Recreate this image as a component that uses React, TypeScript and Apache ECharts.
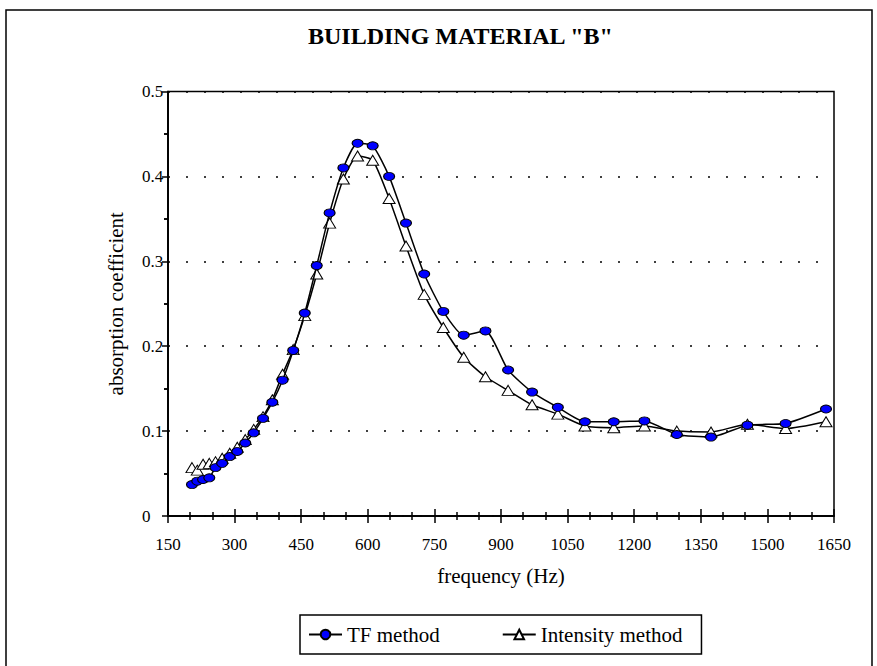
import React, { useEffect, useRef } from "react";
import * as echarts from "echarts";

const frequencies = [
  204, 216, 229, 243, 257, 272, 289, 306, 324, 343, 364, 385, 408, 432, 458, 485, 514, 545, 577,
  611, 648, 686, 727, 770, 816, 865, 916, 970, 1028, 1089, 1154, 1223, 1296, 1373, 1455, 1541, 1632,
];
const tfMethod = [
  0.037, 0.041, 0.043, 0.045, 0.057, 0.062, 0.07, 0.076, 0.086, 0.098, 0.115, 0.134, 0.16, 0.195,
  0.239, 0.295, 0.357, 0.41, 0.439, 0.436, 0.4, 0.345, 0.285, 0.241, 0.213, 0.218, 0.172, 0.146,
  0.128, 0.111, 0.111, 0.112, 0.096, 0.093, 0.107, 0.109, 0.126,
];
const intensityMethod = [
  0.057, 0.054, 0.061, 0.062, 0.064, 0.068, 0.074, 0.081, 0.09, 0.102, 0.117, 0.137, 0.167, 0.196,
  0.236, 0.285, 0.345, 0.397, 0.424, 0.419, 0.374, 0.318, 0.261, 0.222, 0.187, 0.164, 0.148, 0.131,
  0.12, 0.106, 0.104, 0.106, 0.1, 0.099, 0.108, 0.103, 0.111,
];
const seriesNames = ["TF method", "Intensity method"];
const titleText = 'BUILDING MATERIAL "B"';
const xAxisName = "frequency (Hz)";
const yAxisName = "absorption coefficient";

const FONT = "Liberation Serif";

export default function App() {
  const ref = useRef<HTMLDivElement>(null);
  useEffect(() => {
    if (!ref.current) return;
    const chart = echarts.init(ref.current, null, { renderer: "svg" });
    const tf = frequencies.map((f, i) => [f, tfMethod[i]]);
    const it = frequencies.map((f, i) => [f, intensityMethod[i]]);
    const axisBase = {
      type: "value" as const,
      axisLine: { show: true, lineStyle: { color: "#000", width: 1.5 } },
      splitLine: { show: false },
    };
    chart.setOption({
      animation: false,
      backgroundColor: "#fff",
      textStyle: { fontFamily: FONT, color: "#000" },
      title: {
        text: titleText,
        left: 308,
        top: 24,
        padding: 0,
        textStyle: { fontFamily: FONT, fontWeight: "bold", fontSize: 24, color: "#000" },
      },
      grid: {
        left: 168,
        right: 43,
        top: 91.5,
        bottom: 150,
        show: true,
        borderColor: "#000",
        borderWidth: 1.5,
        containLabel: false,
      },
      legend: {
        data: seriesNames,
        left: 300,
        top: 615,
        orient: "horizontal",
        borderColor: "#000",
        borderWidth: 1.5,
        padding: [9, 19, 9, 8],
        itemWidth: 33,
        itemHeight: 12,
        itemGap: 62,
        textStyle: { fontFamily: FONT, fontSize: 21, color: "#000" },
      },
      xAxis: [
        {
          ...axisBase,
          min: 150,
          max: 1650,
          interval: 150,
          position: "bottom",
          name: xAxisName,
          nameLocation: "middle",
          nameGap: 49,
          nameTextStyle: { fontFamily: FONT, fontSize: 21, color: "#000" },
          axisTick: { show: true, length: 7, lineStyle: { color: "#000", width: 1.5 } },
          minorTick: { show: true, splitNumber: 3, length: 4, lineStyle: { color: "#000", width: 1.5 } },
          axisLabel: {
            fontFamily: FONT,
            fontSize: 17,
            color: "#000",
            margin: 20,
            formatter: (v: number) => String(v),
          },
        },
        {
          ...axisBase,
          min: 150,
          max: 1650,
          interval: 150,
          position: "bottom",
          axisTick: { show: true, inside: true, length: 7, lineStyle: { color: "#000", width: 1.5 } },
          minorTick: { show: true, splitNumber: 3, length: 4, lineStyle: { color: "#000", width: 1.5 } },
          axisLabel: { show: false },
        },
      ],
      yAxis: [
        {
          ...axisBase,
          min: 0,
          max: 0.5,
          interval: 0.1,
          position: "left",
          name: yAxisName,
          nameLocation: "middle",
          nameGap: 42,
          nameRotate: 90,
          nameTextStyle: { fontFamily: FONT, fontSize: 21, color: "#000" },
          axisTick: { show: true, length: 6, lineStyle: { color: "#000", width: 1.5 } },
          minorTick: { show: true, splitNumber: 2, length: 4, lineStyle: { color: "#000", width: 1.5 } },
          axisLabel: {
            fontFamily: FONT,
            fontSize: 17,
            color: "#000",
            align: "left",
            margin: 26,
            formatter: (v: number) => (v === 0 ? "0" : v.toFixed(1)),
          },
          splitLine: {
            show: true,
            lineStyle: { color: "#000", width: 1.5, type: [2, 16] },
          },
        },
        {
          ...axisBase,
          min: 0,
          max: 0.5,
          interval: 0.1,
          position: "left",
          axisTick: { show: false },
          minorTick: { show: true, splitNumber: 2, length: 4, lineStyle: { color: "#000", width: 1.5 } },
          axisLabel: { show: false },
        },
      ],
      series: [
        {
          name: seriesNames[1],
          type: "line",
          data: it,
          smooth: 0.2,
          symbol: "triangle",
          symbolSize: [12, 10],
          itemStyle: { color: "#fff", borderColor: "#000", borderWidth: 1 },
          lineStyle: { color: "#000", width: 1.5 },
          z: 2,
        },
        {
          name: seriesNames[0],
          type: "line",
          data: tf,
          smooth: 0.2,
          symbol: "circle",
          symbolSize: [11, 8],
          itemStyle: { color: "#0000ff", borderColor: "#000", borderWidth: 1 },
          lineStyle: { color: "#000", width: 1.5 },
          z: 3,
        },
      ],
      graphic: [
        {
          type: "rect",
          shape: { x: 6, y: 10, width: 866, height: 700 },
          style: { fill: "none", stroke: "#000", lineWidth: 1.5 },
          silent: true,
        },
      ],
    });
    return () => chart.dispose();
  }, []);
  return (
    <div
      ref={ref}
      style={{ position: "absolute", left: 0, top: 0, width: 877, height: 666, background: "#fff" }}
    />
  );
}
